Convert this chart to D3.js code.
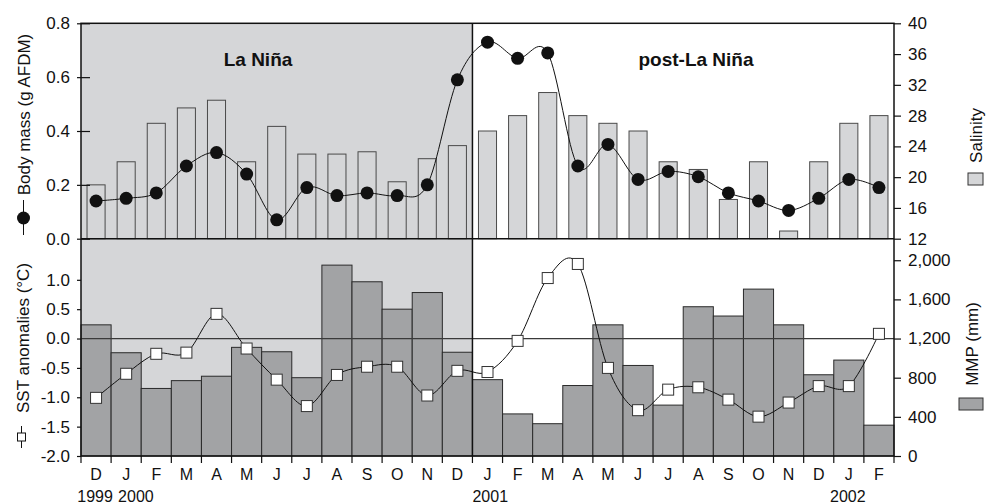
<!doctype html>
<html>
<head>
<meta charset="utf-8">
<title>La Nina body mass</title>
<style>
  body { margin: 0; background: #fff; }
  svg text { font-family: "Liberation Sans", Arial, sans-serif; fill: #111; }
</style>
</head>
<body>
<script src="https://cdn.jsdelivr.net/npm/d3@7/dist/d3.min.js"></script>
<svg id="chart" width="999" height="504"></svg>
<script>
// months Dec 1999 .. Feb 2002
const months = ["D","J","F","M","A","M","J","J","A","S","O","N","D",
                "J","F","M","A","M","J","J","A","S","O","N","D","J","F"];
const yearLabels = ["1999", "2000", "2001", "2002"];
const yearIndex = [0, 1, 13, 25];

// top panel
const bodyMass = [0.14, 0.15, 0.17, 0.27, 0.32, 0.24, 0.07, 0.19, 0.16, 0.17, 0.16, 0.20, 0.59,
                  0.73, 0.67, 0.69, 0.27, 0.35, 0.22, 0.25, 0.23, 0.17, 0.14, 0.105, 0.15, 0.22, 0.19];
const salinity = [19, 22, 27, 29, 30, 22, 26.6, 23, 23, 23.3, 19.4, 22.4, 24.1,
                  26, 28, 31, 28, 27, 26, 22, 21, 17.1, 22, 13, 22, 27, 28];

// bottom panel
const sst = [-1.01, -0.60, -0.26, -0.24, 0.42, -0.17, -0.70, -1.15, -0.62, -0.48, -0.48, -0.97, -0.55,
             -0.57, -0.04, 1.03, 1.27, -0.50, -1.22, -0.87, -0.83, -1.04, -1.33, -1.09, -0.81, -0.81, 0.08];
const mmp = [1340, 1055, 690, 770, 815, 1110, 1065, 800, 1950, 1780, 1500, 1670, 1060,
             780, 430, 330, 720, 1340, 925, 520, 1525, 1430, 1705, 1340, 830, 980, 315];

const massTicks = [0, 0.2, 0.4, 0.6, 0.8];
const salTicks = [12, 16, 20, 24, 28, 32, 36, 40];
const sstTicks = [-2, -1.5, -1, -0.5, 0, 0.5, 1];
const mmpTicks = [0, 400, 800, 1200, 1600, 2000];

const svg = d3.select("#chart");
const left = 81, right = 894, yTop = 23.3, yMid = 238.7, yBot = 456;
const lightGrey = "#d5d6d8", darkGrey = "#a2a3a5";

const x = d3.scaleBand().domain(d3.range(months.length)).range([left, right]).padding(0);
const bw = x.bandwidth();
const cx = i => x(i) + bw / 2;
const splitX = x(13);

const yMass = d3.scaleLinear().domain([0, 0.8]).range([yMid, yTop]);
const ySal = d3.scaleLinear().domain([12, 40]).range([yMid, yTop]);
const ySst = d3.scaleLinear().domain([-2, 1.7]).range([yBot, yMid]);
const yMmp = d3.scaleLinear().domain([0, 2220]).range([yBot, yMid]);

// La Nina shading
svg.append("rect")
  .attr("x", left).attr("y", yTop)
  .attr("width", splitX - left).attr("height", yBot - yTop)
  .attr("fill", lightGrey);

// salinity bars
svg.append("g").selectAll("rect")
  .data(salinity)
  .join("rect")
  .attr("x", (d, i) => cx(i) - bw * 0.3)
  .attr("width", bw * 0.6)
  .attr("y", d => ySal(d))
  .attr("height", d => yMid - ySal(d))
  .attr("fill", lightGrey)
  .attr("stroke", "#4a4a4a")
  .attr("stroke-width", 1);

// MMP bars
svg.append("g").selectAll("rect")
  .data(mmp)
  .join("rect")
  .attr("x", (d, i) => x(i))
  .attr("width", bw)
  .attr("y", d => yMmp(d))
  .attr("height", d => yBot - yMmp(d))
  .attr("fill", darkGrey)
  .attr("stroke", "#2a2a2a")
  .attr("stroke-width", 1);

// zero line of SST
svg.append("line")
  .attr("x1", left).attr("x2", right)
  .attr("y1", ySst(0)).attr("y2", ySst(0))
  .attr("stroke", "#3a3a3a").attr("stroke-width", 1.2);

const curve = d3.curveCardinal.tension(0);

// body mass line + dots
svg.append("path")
  .datum(bodyMass)
  .attr("fill", "none").attr("stroke", "#111").attr("stroke-width", 1)
  .attr("d", d3.line().x((d, i) => cx(i)).y(d => yMass(d)).curve(curve));
svg.append("g").selectAll("circle")
  .data(bodyMass)
  .join("circle")
  .attr("cx", (d, i) => cx(i))
  .attr("cy", d => yMass(d))
  .attr("r", 6.5)
  .attr("fill", "#111");

// SST line + squares
svg.append("path")
  .datum(sst)
  .attr("fill", "none").attr("stroke", "#111").attr("stroke-width", 1)
  .attr("d", d3.line().x((d, i) => cx(i)).y(d => ySst(d)).curve(curve));
svg.append("g").selectAll("rect")
  .data(sst)
  .join("rect")
  .attr("x", (d, i) => cx(i) - 5.5)
  .attr("y", d => ySst(d) - 5.5)
  .attr("width", 11).attr("height", 11)
  .attr("fill", "#fff")
  .attr("stroke", "#333")
  .attr("stroke-width", 1);

// frame
svg.append("rect")
  .attr("x", left).attr("y", yTop)
  .attr("width", right - left).attr("height", yBot - yTop)
  .attr("fill", "none").attr("stroke", "#111").attr("stroke-width", 1.5);
svg.append("line")
  .attr("x1", left).attr("x2", right).attr("y1", yMid).attr("y2", yMid)
  .attr("stroke", "#111").attr("stroke-width", 1.5);
svg.append("line")
  .attr("x1", splitX).attr("x2", splitX).attr("y1", yTop).attr("y2", yBot)
  .attr("stroke", "#111").attr("stroke-width", 1.5);

// axes
function styleAxis(g) {
  g.select(".domain").remove();
  g.selectAll(".tick line").attr("stroke", "#111").attr("stroke-width", 1.2);
  g.selectAll(".tick text").style("font-size", "17px").attr("fill", "#111");
}

svg.append("g")
  .attr("transform", `translate(${left},0)`)
  .call(d3.axisLeft(yMass).tickValues(massTicks).tickFormat(d => d.toFixed(1)).tickSize(4).tickPadding(7))
  .call(styleAxis)
  .call(g => g.selectAll(".tick line").attr("x1", 9));

svg.append("g")
  .attr("transform", `translate(${right},0)`)
  .call(d3.axisRight(ySal).tickValues(salTicks).tickSize(7).tickPadding(7))
  .call(styleAxis);

svg.append("g")
  .attr("transform", `translate(${left},0)`)
  .call(d3.axisLeft(ySst).tickValues(sstTicks).tickFormat(d => d.toFixed(1)).tickSize(4).tickPadding(7))
  .call(styleAxis);

svg.append("g")
  .attr("transform", `translate(${right},0)`)
  .call(d3.axisRight(yMmp).tickValues(mmpTicks).tickFormat(d3.format(",")).tickSize(7).tickPadding(7))
  .call(styleAxis);

// month ticks on category boundaries
const bounds = d3.range(months.length + 1).map(i => left + i * bw);
svg.append("g").selectAll("line")
  .data(bounds)
  .join("line")
  .attr("x1", d => d).attr("x2", d => d)
  .attr("y1", yBot).attr("y2", yBot + 7)
  .attr("stroke", "#111").attr("stroke-width", 1.2);

svg.append("g").selectAll("text")
  .data(months)
  .join("text")
  .attr("x", (d, i) => cx(i))
  .attr("y", 480)
  .attr("text-anchor", "middle")
  .style("font-size", "16px")
  .text(d => d);

// year labels
svg.append("g").selectAll("text")
  .data(yearLabels)
  .join("text")
  .attr("x", (d, i) => i === 1 ? x(yearIndex[i]) + 7 : i === 2 ? x(yearIndex[i]) : cx(yearIndex[i]) - 1)
  .attr("y", 502)
  .attr("text-anchor", (d, i) => (i === 1 || i === 2) ? "start" : "middle")
  .style("font-size", "16px")
  .text(d => d);

// panel titles
svg.append("text")
  .attr("x", 258).attr("y", 66)
  .attr("text-anchor", "middle")
  .style("font-size", "19px").style("font-weight", "bold")
  .text("La Niña");
svg.append("text")
  .attr("x", 696).attr("y", 66)
  .attr("text-anchor", "middle")
  .style("font-size", "19px").style("font-weight", "bold")
  .text("post-La Niña");

// left axis titles with symbols
svg.append("line")
  .attr("x1", 23.5).attr("x2", 23.5).attr("y1", 200).attr("y2", 235)
  .attr("stroke", "#111").attr("stroke-width", 1);
svg.append("circle")
  .attr("cx", 23.5).attr("cy", 218).attr("r", 6.5).attr("fill", "#111");
svg.append("text")
  .attr("transform", "translate(30,114.5) rotate(-90)")
  .attr("text-anchor", "middle")
  .style("font-size", "17px")
  .text("Body mass (g AFDM)");

svg.append("line")
  .attr("x1", 21.5).attr("x2", 21.5).attr("y1", 426).attr("y2", 448)
  .attr("stroke", "#111").attr("stroke-width", 1);
svg.append("rect")
  .attr("x", 17.5).attr("y", 433).attr("width", 8).attr("height", 8)
  .attr("fill", "#fff").attr("stroke", "#111").attr("stroke-width", 1);
svg.append("text")
  .attr("transform", "translate(29,338) rotate(-90)")
  .attr("text-anchor", "middle")
  .style("font-size", "17px")
  .text("SST anomalies (°C)");

// right legends
svg.append("text")
  .attr("transform", "translate(982,135.5) rotate(-90)")
  .attr("text-anchor", "middle")
  .style("font-size", "17px")
  .text("Salinity");
svg.append("rect")
  .attr("x", 968).attr("y", 173).attr("width", 15).attr("height", 12)
  .attr("fill", lightGrey).attr("stroke", "#333").attr("stroke-width", 1);

svg.append("text")
  .attr("transform", "translate(978,344) rotate(-90)")
  .attr("text-anchor", "middle")
  .style("font-size", "17px")
  .text("MMP (mm)");
svg.append("rect")
  .attr("x", 959).attr("y", 398).attr("width", 24).attr("height", 12)
  .attr("fill", darkGrey).attr("stroke", "#333").attr("stroke-width", 1);
</script>
</body>
</html>
